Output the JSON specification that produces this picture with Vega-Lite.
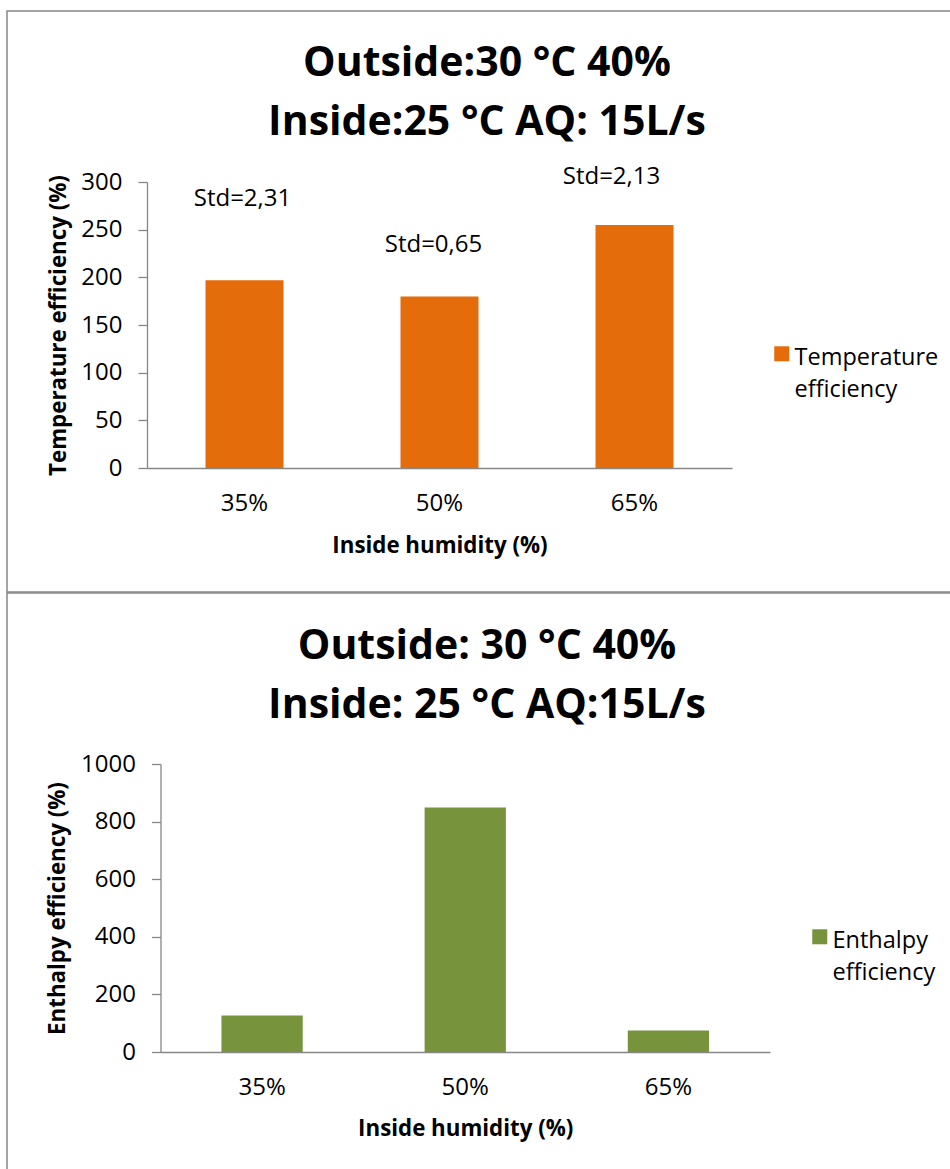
{
  "$schema": "https://vega.github.io/schema/vega-lite/v6.json",
  "padding": {"left": 6, "top": 10, "right": 0, "bottom": 0},
  "autosize": {"type": "pad"},
  "spacing": -1,
  "config": {
    "font": "Open Sans",
    "view": {"stroke": "#888888", "strokeWidth": 1.5},
    "axis": {"grid": false, "domainColor": "#868686", "domainWidth": 1.3, "tickColor": "#868686", "tickWidth": 1.3, "labelColor": "#000000", "titleColor": "#000000", "labelFontSize": 24, "titleFontSize": 22.3, "titleFontWeight": "bold"},
    "legend": {"labelColor": "#000000"},
    "style": {"guide-label": {"lineHeight": 32}}
  },
  "resolve": {"scale": {"x": "independent", "y": "independent", "color": "independent"}, "legend": {"color": "independent"}},
  "vconcat": [
    {
      "width": 960,
      "height": 581,
      "title": {"text": ["Outside:30 °C 40%", "Inside:25 °C AQ: 15L/s"], "anchor": "middle", "frame": "group", "fontSize": 41, "fontWeight": "bold", "lineHeight": 59, "baseline": "top", "offset": -133, "color": "#000000"},
      "data": {"values": [
        {"humidity": "35%", "value": 197, "std": "Std=2,31", "series": "Temperature efficiency"},
        {"humidity": "50%", "value": 180, "std": "Std=0,65", "series": "Temperature efficiency"},
        {"humidity": "65%", "value": 255, "std": "Std=2,13", "series": "Temperature efficiency"}
      ]},
      "encoding": {
        "x": {"field": "humidity", "type": "nominal", "sort": null,
          "scale": {"range": [140, 725], "paddingInner": 0.6, "paddingOuter": 0.3},
          "axis": {"orient": "bottom", "offset": -124, "title": "Inside humidity (%)", "labelAngle": 0, "ticks": false, "tickSize": 0, "labelPadding": 23, "titleY": 77, "titleBaseline": "middle"}},
        "y": {"field": "value", "type": "quantitative",
          "scale": {"domain": [0, 300], "nice": false, "range": [457, 171]},
          "axis": {"orient": "left", "offset": -140, "title": "Temperature efficiency (%)", "values": [0, 50, 100, 150, 200, 250, 300], "format": "d", "tickSize": 9, "labelPadding": 16, "titleX": -89, "titleBaseline": "middle"}}
      },
      "layer": [
        {"mark": {"type": "bar"},
         "encoding": {"color": {"field": "series", "type": "nominal", "scale": {"range": ["#E46C0A"]},
           "legend": {"title": null, "orient": "none", "legendX": 763, "legendY": 323, "symbolType": "M-1,0.07H1V2.07H-1Z", "symbolSize": 225, "symbolStrokeWidth": 0, "labelFontSize": 23.5, "labelOffset": 1, "labelExpr": "split(datum.label, ' ')", "labelLimit": 0, "labelBaseline": "top", "padding": 0}}}},
        {"transform": [{"filter": "datum.humidity === '35%'"}],
         "mark": {"type": "text", "dx": -2, "dy": -81, "fontSize": 24, "baseline": "middle", "color": "#000000"},
         "encoding": {"text": {"field": "std"}}},
        {"transform": [{"filter": "datum.humidity === '50%'"}],
         "mark": {"type": "text", "dx": -6, "dy": -51, "fontSize": 24, "baseline": "middle", "color": "#000000"},
         "encoding": {"text": {"field": "std"}}},
        {"transform": [{"filter": "datum.humidity === '65%'"}],
         "mark": {"type": "text", "dx": -23, "dy": -48, "fontSize": 24, "baseline": "middle", "color": "#000000"},
         "encoding": {"text": {"field": "std"}}}
      ]
    },
    {
      "width": 960,
      "height": 581,
      "title": {"text": ["Outside: 30 °C 40%", "Inside: 25 °C AQ:15L/s"], "anchor": "middle", "frame": "group", "fontSize": 41, "fontWeight": "bold", "lineHeight": 59, "baseline": "top", "offset": -134, "color": "#000000"},
      "data": {"values": [
        {"humidity": "35%", "value": 127, "series": "Enthalpy efficiency"},
        {"humidity": "50%", "value": 849, "series": "Enthalpy efficiency"},
        {"humidity": "65%", "value": 75, "series": "Enthalpy efficiency"}
      ]},
      "mark": {"type": "bar"},
      "encoding": {
        "x": {"field": "humidity", "type": "nominal", "sort": null,
          "scale": {"range": [153.5, 763], "paddingInner": 0.6, "paddingOuter": 0.3},
          "axis": {"orient": "bottom", "offset": -122, "title": "Inside humidity (%)", "labelAngle": 0, "ticks": false, "tickSize": 0, "labelPadding": 23, "titleY": 76, "titleBaseline": "middle"}},
        "y": {"field": "value", "type": "quantitative",
          "scale": {"domain": [0, 1000], "nice": false, "range": [459, 171]},
          "axis": {"orient": "left", "offset": -153.5, "title": "Enthalpy efficiency (%)", "values": [0, 200, 400, 600, 800, 1000], "format": "d", "tickSize": 9, "labelPadding": 16, "titleX": -103.5, "titleBaseline": "middle"}},
        "color": {"field": "series", "type": "nominal", "scale": {"range": ["#77933C"]},
          "legend": {"title": null, "orient": "none", "legendX": 801, "legendY": 324, "symbolType": "M-1,0.07H1V2.07H-1Z", "symbolSize": 225, "symbolStrokeWidth": 0, "labelFontSize": 23.5, "labelOffset": 1, "labelExpr": "split(datum.label, ' ')", "labelLimit": 0, "labelBaseline": "top", "padding": 0}}
      }
    }
  ]
}
